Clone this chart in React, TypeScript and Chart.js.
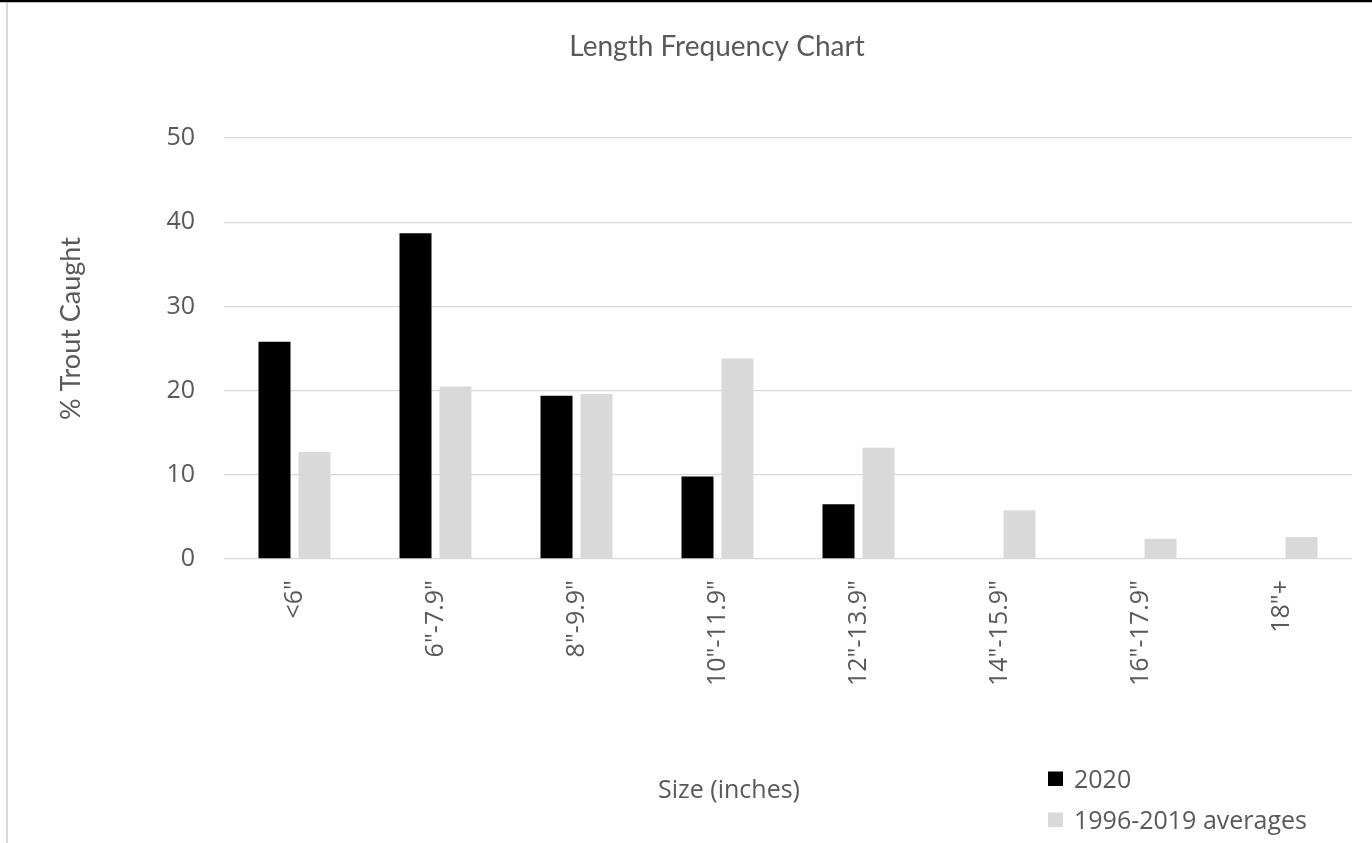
import React, { useEffect, useRef } from 'react';
import { Chart, registerables } from 'chart.js';

Chart.register(...registerables);

const categories = ['<6"', '6"-7.9"', '8"-9.9"', '10"-11.9"', '12"-13.9"', '14"-15.9"', '16"-17.9"', '18"+'];
const series2020 = [25.8, 38.7, 19.4, 9.8, 6.5, 0, 0, 0];
const seriesAvg = [12.7, 20.5, 19.6, 23.8, 13.2, 5.8, 2.4, 2.6];
const seriesNames = ['2020', '1996-2019 averages'];
const yMin = 0;
const yMax = 50;
const yStep = 10;
const chartTitle = 'Length Frequency Chart';
const xTitle = 'Size (inches)';
const yTitle = '% Trout Caught';

const TEXT = '#595959';
const GRID = '#d9d9d9';
const COLORS = ['#000000', '#d9d9d9'];
const TICK_FONT = { family: '"Open Sans", sans-serif', size: 25 };

const overlayPlugin = {
  id: 'overlayTexts',
  afterDraw(chart: any) {
    const ctx = chart.ctx as CanvasRenderingContext2D;
    ctx.save();
    ctx.fillStyle = TEXT;
    ctx.textBaseline = 'alphabetic';
    // x axis title
    ctx.font = '25px "Open Sans", sans-serif';
    ctx.textAlign = 'center';
    ctx.fillText(xTitle, 729, 798);
    // y axis title
    ctx.save();
    ctx.translate(80, 328.5);
    ctx.rotate(-Math.PI / 2);
    ctx.font = '27px Lato, sans-serif';
    ctx.textAlign = 'center';
    ctx.fillText(yTitle, 0, 0);
    ctx.restore();
    // legend
    ctx.font = '25px "Open Sans", sans-serif';
    ctx.textAlign = 'left';
    chart.data.datasets.forEach((ds: any, i: number) => {
      const baseY = 788 + i * 41;
      ctx.fillStyle = ds.backgroundColor;
      ctx.fillRect(1048, baseY - 16.5, 15, 14.5);
      ctx.fillStyle = TEXT;
      ctx.fillText(ds.label, 1074, baseY);
    });
    ctx.restore();
  },
};

export default function App() {
  const ref = useRef<HTMLCanvasElement>(null);
  useEffect(() => {
    if (!ref.current) return;
    const chart = new Chart(ref.current, {
      type: 'bar',
      data: {
        labels: categories,
        datasets: [
          { label: seriesNames[0], data: series2020, backgroundColor: COLORS[0], borderWidth: 0 },
          { label: seriesNames[1], data: seriesAvg, backgroundColor: COLORS[1], borderWidth: 0 },
        ],
      },
      options: {
        responsive: false,
        animation: false,
        events: [],
        datasets: { bar: { categoryPercentage: 80 / 141, barPercentage: 0.8 } },
        layout: { padding: { left: 82, right: 20, top: 0, bottom: 0 } },
        plugins: {
          legend: { display: false },
          tooltip: { enabled: false },
          title: {
            display: true,
            text: chartTitle,
            color: TEXT,
            font: { family: 'Lato, sans-serif', size: 28, weight: 'normal' },
            padding: { top: 30, bottom: 74.4 },
          },
        },
        scales: {
          x: {
            grid: { display: false, drawTicks: false },
            border: { display: false },
            ticks: {
              color: TEXT,
              font: TICK_FONT,
              minRotation: 90,
              maxRotation: 90,
              autoSkip: false,
              padding: 21,
            },
            afterFit: (scale: any) => {
              scale.height = 843 - 559;
            },
          },
          y: {
            min: yMin,
            max: yMax,
            grid: { color: GRID, lineWidth: 1.3, drawTicks: false },
            border: { display: false },
            ticks: { stepSize: yStep, color: TEXT, font: TICK_FONT, padding: 29 },
            afterFit: (scale: any) => {
              scale.width = 224 - 82;
            },
          },
        },
      },
      plugins: [overlayPlugin],
    });
    return () => chart.destroy();
  }, []);

  return (
    <div style={{ position: 'fixed', left: 0, top: 0, width: 1372, height: 843, overflow: 'hidden', background: '#fff' }}>
      <canvas ref={ref} width={1372} height={843} style={{ position: 'absolute', left: 0, top: 0, width: 1372, height: 843 }} />
      <div style={{ position: 'absolute', left: 0, top: 0, width: 1372, height: 2, background: '#000' }} />
      <div style={{ position: 'absolute', left: 0, top: 2, width: 1372, height: 1, background: '#bdbdbd' }} />
      <div style={{ position: 'absolute', left: 6, top: 3, width: 2, height: 840, background: '#d9d9d9' }} />
    </div>
  );
}
